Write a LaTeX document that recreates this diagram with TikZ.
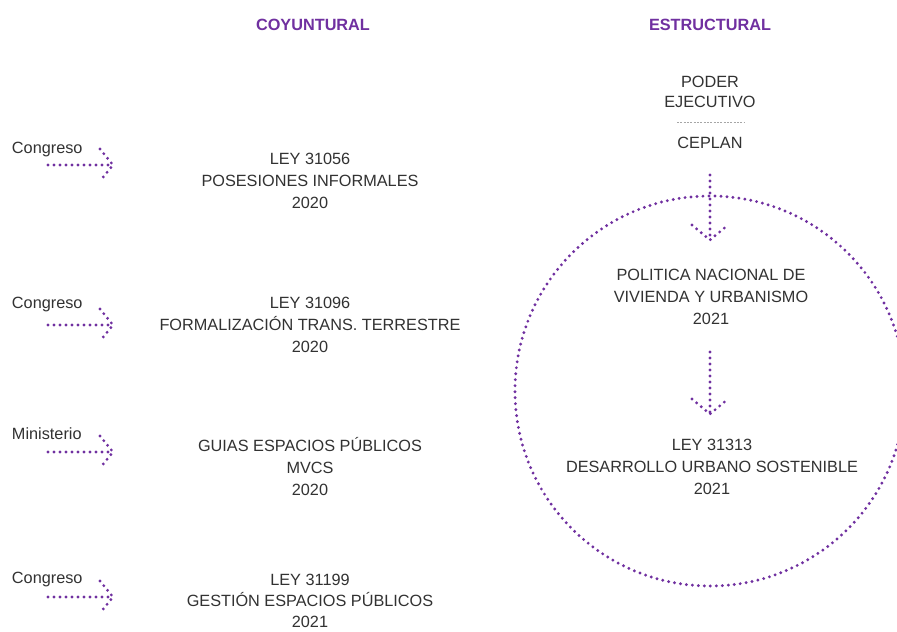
\documentclass[tikz,border=0pt]{standalone}
\usepackage{fontspec}
\setmainfont{Liberation Sans}
\usetikzlibrary{calc}
\definecolor{purp}{RGB}{112,48,160}
\definecolor{txt}{RGB}{50,50,50}
\begin{document}
\begin{tikzpicture}[x=0.75pt,y=-0.75pt,
  every node/.style={inner sep=0pt,outer sep=0pt,text=txt,font=\fontsize{12.2}{16.5}\selectfont},
  head/.style={text=purp,font=\fontsize{12.2}{15}\selectfont\bfseries},
  block/.style={align=center},
  lbl/.style={anchor=west},
  dotline/.style={draw=purp,line width=2.4pt,line cap=round,dash pattern=on 0pt off 4.5pt},
]
\clip (0,0) rectangle (897,632);
\fill[white] (0,0) rectangle (897,632);

% headings
\node[head] (hcoy) at (313,25) {COYUNTURAL};
\node[head] (hest) at (710,25) {ESTRUCTURAL};

% left column labels
\node[lbl] (c1) at (12,150) {Congreso};
\node[lbl] (c2) at (12,305) {Congreso};
\node[lbl] (m3) at (12,434) {Ministerio};
\node[lbl] (c4) at (12,580) {Congreso};

% left arrows
\foreach \i/\yy in {1/165,2/325,3/452,4/597}{
  \coordinate (s\i) at (48,\yy);
  \coordinate (t\i) at (113,\yy);
  \draw[dotline] (s\i) -- (t\i);
  \draw[dotline] ($(t\i)+(-13,-16)$) -- (t\i) -- ($(t\i)+(-13,16)$);
}

% center blocks
\node[block] (b1) at (310,181) {LEY 31056\\POSESIONES INFORMALES\\2020};
\node[block] (b2) at (310,325) {LEY 31096\\FORMALIZACIÓN TRANS. TERRESTRE\\2020};
\node[block] (b3) at (310,467) {GUIAS ESPACIOS PÚBLICOS\\MVCS\\2020};
\node[block,font=\fontsize{12.2}{15.8}\selectfont] (b4) at (310,601) {LEY 31199\\GESTIÓN ESPACIOS PÚBLICOS\\2021};

% right column
\node[block,font=\fontsize{12.2}{15}\selectfont] (pe) at (710,92) {PODER\\EJECUTIVO};
\coordinate (dl) at (677,122);
\coordinate (dr) at (744,122);
\draw[gray!70,line width=0.7pt,dash pattern=on 1.5pt off 1pt] (dl) -- (dr);
\node (ce) at (710,143) {CEPLAN};

\node[block] (pn) at (711,297) {POLITICA NACIONAL DE\\VIVIENDA Y URBANISMO\\2021};
\node[block] (ly) at (712,467) {LEY 31313\\DESARROLLO URBANO SOSTENIBLE\\2021};

% circle
\coordinate (cc) at (710,391);
\draw[dotline] (cc) circle[radius=195];

% vertical arrows
\coordinate (a1s) at (710,175);
\coordinate (a1t) at (710,240);
\draw[dotline] (a1s) -- (a1t);
\draw[dotline] ($(a1t)+(-18,-15)$) -- (a1t) -- ($(a1t)+(18,-15)$);
\coordinate (a2s) at (710,352);
\coordinate (a2t) at (710,414);
\draw[dotline] (a2s) -- (a2t);
\draw[dotline] ($(a2t)+(-18,-15)$) -- (a2t) -- ($(a2t)+(18,-15)$);
\end{tikzpicture}
\end{document}
